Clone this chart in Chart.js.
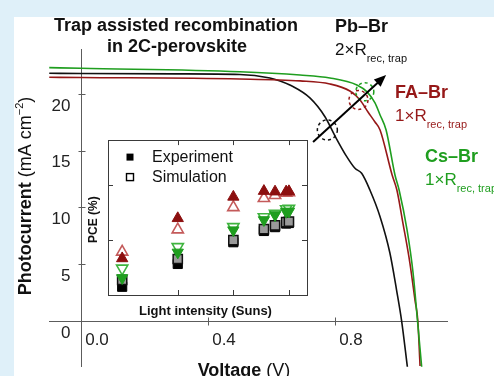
<!DOCTYPE html>
<html>
<head>
<meta charset="utf-8">
<script src="https://cdn.jsdelivr.net/npm/chart.js@4.4.0/dist/chart.umd.min.js"></script>
<style>
  html, body { margin: 0; padding: 0; background: #dff0f9; }
  #wrap { position: relative; width: 494px; height: 376px; overflow: hidden; }
  #panel { position: absolute; left: 14px; top: 17px; width: 480px; height: 359px; background: #fff; }
  #main { position: absolute; left: 0; top: 0; }
  #inset { position: absolute; left: 84px; top: 132px; }
</style>
</head>
<body>
<div id="wrap">
  <div id="panel"></div>
  <canvas id="main" width="494" height="376"></canvas>
  <canvas id="inset" width="236" height="190"></canvas>
</div>
<script>
// J-V curves (voltage in V, photocurrent in mA cm^-2)
const pbV = [-0.1, 0, 0.3, 0.5, 0.595, 0.627, 0.658, 0.721, 0.769, 0.80, 0.837, 0.863, 0.884, 0.910, 0.942, 0.973, 0.994, 1.010, 1.028];
const pbJ = [21.82, 21.80, 21.77, 21.72, 21.41, 21.15, 20.79, 19.65, 17.97, 16.3, 14.48, 13.45, 13.01, 11.54, 9.19, 5.99, 2.73, 0, -4.03];
const faV = [-0.1, 0, 0.5, 0.69, 0.784, 0.847, 0.879, 0.904, 0.926, 0.942, 0.980, 0.995, 1.014, 1.036, 1.052, 1.061, 1.068];
const faJ = [21.47, 21.45, 21.32, 21.15, 20.88, 20.26, 19.47, 18.41, 17.53, 16.83, 12.86, 11.54, 8.63, 5.11, 1.85, 0, -3.96];
const csV = [-0.1, 0, 0.5, 0.69, 0.784, 0.869, 0.901, 0.926, 0.942, 0.961, 0.989, 1.002, 1.027, 1.046, 1.060, 1.073];
const csJ = [22.32, 22.26, 21.96, 21.67, 21.41, 20.79, 20.18, 19.21, 18.15, 16.83, 12.86, 11.54, 8.02, 4.23, 0, -4.03];

const xTicks = [0.0, 0.4, 0.8];
const yTicks = [0, 5, 10, 15, 20];

// inset: PCE vs light intensity
const intensity = [0.2, 0.4, 0.6, 0.71, 0.75, 0.79, 0.80];
const pbExp = [12.30, 13.13, 13.92, 14.33, 14.47, 14.60, 14.62];
const pbSim = [12.55, 13.31, 14.00, 14.40, 14.53, 14.65, 14.67];
const faExp = [13.33, 14.79, 15.57, 15.78, 15.76, 15.76, 15.77];
const faSim = [13.57, 14.38, 15.19, 15.52, 15.63, 15.71, 15.73];
const csExp = [12.62, 13.55, 14.36, 14.73, 14.91, 15.03, 15.04];
const csSim = [12.97, 13.75, 14.48, 14.84, 14.96, 15.13, 15.15];
const insetXTicks = [0.4, 0.6, 0.8];
const insetYTicks = [14, 16];

const SANS = '"Liberation Sans", Arial, Helvetica, sans-serif';
const RED = '#961818';
const GREEN = '#1f9e1f';

function pts(xs, ys) {
  return xs.map((v, i) => ({ x: v, y: ys[i] }));
}

// draw a run of text pieces with their own fonts (for sub/superscripts)
function drawParts(ctx, parts, x, y, align) {
  let total = 0;
  parts.forEach(p => { ctx.font = p.font; p.w = ctx.measureText(p.text).width; total += p.w; });
  let cx = align === 'center' ? x - total / 2 : x;
  ctx.textAlign = 'left';
  ctx.textBaseline = 'alphabetic';
  parts.forEach(p => {
    ctx.font = p.font;
    if (p.color) ctx.fillStyle = p.color;
    ctx.fillText(p.text, cx, y + (p.dy || 0));
    cx += p.w;
  });
}

const mainPlugin = {
  id: 'jvDecor',
  beforeDatasetsDraw(chart) {
    const { ctx, scales: { x, y } } = chart;
    const x0 = Math.round(x.getPixelForValue(0)) + 0.5;
    const y0 = Math.round(y.getPixelForValue(0)) + 0.5;
    ctx.save();
    ctx.strokeStyle = '#5c5c5c';
    ctx.lineWidth = 1;
    ctx.beginPath();
    ctx.moveTo(x.left, y0); ctx.lineTo(x.right, y0);
    ctx.moveTo(x0, y.top); ctx.lineTo(x0, y.bottom);
    yTicks.forEach(v => {
      const p = Math.round(y.getPixelForValue(v)) + 0.5;
      ctx.moveTo(x0 - 3, p); ctx.lineTo(x0 + 4, p);
    });
    xTicks.forEach(v => {
      const p = Math.round(x.getPixelForValue(v)) + 0.5;
      ctx.moveTo(p, y0 - 4); ctx.lineTo(p, y0 + 4);
    });
    ctx.stroke();

    ctx.fillStyle = '#222';
    ctx.font = '17px ' + SANS;
    ctx.textAlign = 'right';
    ctx.textBaseline = 'middle';
    yTicks.forEach(v => ctx.fillText(String(v), x0 - 11, y.getPixelForValue(v) + 12));
    ctx.textAlign = 'center';
    xTicks.forEach(v => ctx.fillText(v.toFixed(1), x.getPixelForValue(v) + 16, y0 + 19));

    // axis titles
    ctx.fillStyle = '#111';
    drawParts(ctx, [
      { text: 'Voltage', font: 'bold 18px ' + SANS },
      { text: ' (V)', font: '18px ' + SANS }
    ], 244, 376, 'center');

    ctx.save();
    ctx.translate(31, 196);
    ctx.rotate(-Math.PI / 2);
    drawParts(ctx, [
      { text: 'Photocurrent', font: 'bold 18px ' + SANS },
      { text: ' (mA cm', font: '18px ' + SANS },
      { text: '\u22122', font: '11px ' + SANS, dy: -8 },
      { text: ')', font: '18px ' + SANS }
    ], 0, 0, 'center');
    ctx.restore();
    ctx.restore();
  },
  afterDatasetsDraw(chart) {
    const { ctx, scales: { x, y } } = chart;
    ctx.save();
    // dashed markers around the maximum power points
    const rings = [
      { v: 0.776, j: 16.83, r: 10, c: '#111' },
      { v: 0.874, j: 19.47, r: 9.5, c: RED },
      { v: 0.894, j: 20.2, r: 9, c: GREEN }
    ];
    ctx.lineWidth = 1.5;
    ctx.setLineDash([3, 3]);
    rings.forEach(o => {
      ctx.strokeStyle = o.c;
      ctx.beginPath();
      ctx.arc(x.getPixelForValue(o.v), y.getPixelForValue(o.j), o.r, 0, Math.PI * 2);
      ctx.stroke();
    });
    ctx.setLineDash([]);

    // arrow
    const ax1 = x.getPixelForValue(0.731), ay1 = y.getPixelForValue(15.77);
    const ax2 = x.getPixelForValue(0.961), ay2 = y.getPixelForValue(21.67);
    const ang = Math.atan2(ay2 - ay1, ax2 - ax1);
    ctx.strokeStyle = '#000';
    ctx.fillStyle = '#000';
    ctx.lineWidth = 2;
    ctx.beginPath();
    ctx.moveTo(ax1, ay1);
    ctx.lineTo(ax2 - 8 * Math.cos(ang), ay2 - 8 * Math.sin(ang));
    ctx.stroke();
    ctx.beginPath();
    ctx.moveTo(ax2, ay2);
    ctx.lineTo(ax2 - 12 * Math.cos(ang) + 5 * Math.sin(ang), ay2 - 12 * Math.sin(ang) - 5 * Math.cos(ang));
    ctx.lineTo(ax2 - 12 * Math.cos(ang) - 5 * Math.sin(ang), ay2 - 12 * Math.sin(ang) + 5 * Math.cos(ang));
    ctx.closePath();
    ctx.fill();

    // titles and labels
    ctx.fillStyle = '#111';
    ctx.font = 'bold 18px ' + SANS;
    ctx.textAlign = 'center';
    ctx.textBaseline = 'alphabetic';
    ctx.fillText('Trap assisted recombination', 176, 31);
    ctx.fillText('in 2C-perovskite', 177, 52);

    const labels = [
      { name: 'Pb\u2013Br', k: '2', x: 335, y: 32, c: '#111' },
      { name: 'FA\u2013Br', k: '1', x: 395, y: 98, c: RED },
      { name: 'Cs\u2013Br', k: '1', x: 425, y: 162, c: GREEN }
    ];
    labels.forEach(l => {
      ctx.fillStyle = l.c;
      drawParts(ctx, [{ text: l.name, font: 'bold 18px ' + SANS }], l.x, l.y, 'left');
      drawParts(ctx, [
        { text: l.k + '\u00d7R', font: '17px ' + SANS },
        { text: 'rec, trap', font: '11px ' + SANS, dy: 7 }
      ], l.x, l.y + 23, 'left');
    });
    ctx.restore();
  }
};

new Chart(document.getElementById('main'), {
  type: 'line',
  data: {
    datasets: [
      { label: 'Cs-Br', data: pts(csV, csJ), borderColor: GREEN, order: 1 },
      { label: 'FA-Br', data: pts(faV, faJ), borderColor: RED, order: 2 },
      { label: 'Pb-Br', data: pts(pbV, pbJ), borderColor: '#111', order: 3 }
    ]
  },
  options: {
    responsive: false,
    animation: false,
    devicePixelRatio: 1,
    layout: { padding: { left: 49, right: 46, top: 49, bottom: 9 } },
    elements: {
      line: { borderWidth: 1.6, cubicInterpolationMode: 'monotone', fill: false },
      point: { radius: 0 }
    },
    scales: {
      x: { type: 'linear', display: false, min: -0.1008, max: 1.156 },
      y: { type: 'linear', display: false, min: -4.05, max: 23.96 }
    },
    plugins: { legend: { display: false }, tooltip: { enabled: false } }
  },
  plugins: [mainPlugin]
});

const insetPlugin = {
  id: 'insetDecor',
  beforeDraw(chart) {
    const { ctx, chartArea: a } = chart;
    ctx.save();
    ctx.fillStyle = '#fff';
    ctx.fillRect(a.left, a.top, a.right - a.left, a.bottom - a.top);
    ctx.restore();
  },
  afterDraw(chart) {
    const { ctx, chartArea: a, scales: { x, y } } = chart;
    ctx.save();
    ctx.strokeStyle = '#3a3a3a';
    ctx.lineWidth = 1;
    ctx.strokeRect(Math.round(a.left) + 0.5, Math.round(a.top) + 0.5, Math.round(a.right - a.left), Math.round(a.bottom - a.top));
    ctx.beginPath();
    insetXTicks.forEach(v => {
      const p = Math.round(x.getPixelForValue(v)) + 0.5;
      ctx.moveTo(p, a.top); ctx.lineTo(p, a.top + 5);
      ctx.moveTo(p, a.bottom); ctx.lineTo(p, a.bottom - 5);
    });
    insetYTicks.forEach(v => {
      const p = Math.round(y.getPixelForValue(v)) + 0.5;
      ctx.moveTo(a.left, p); ctx.lineTo(a.left + 5, p);
      ctx.moveTo(a.right, p); ctx.lineTo(a.right - 5, p);
    });
    ctx.stroke();

    // legend
    ctx.fillStyle = '#000';
    ctx.fillRect(a.left + 18.5, a.top + 13.5, 7, 7);
    ctx.fillStyle = '#fff';
    ctx.fillRect(a.left + 18.5, a.top + 33.5, 7, 7);
    ctx.strokeStyle = '#000';
    ctx.lineWidth = 1.4;
    ctx.strokeRect(a.left + 18.5, a.top + 33.5, 7, 7);
    ctx.fillStyle = '#111';
    ctx.font = '16px ' + SANS;
    ctx.textAlign = 'left';
    ctx.textBaseline = 'middle';
    ctx.fillText('Experiment', a.left + 44, a.top + 17);
    ctx.fillText('Simulation', a.left + 44, a.top + 37);

    // axis titles
    ctx.font = 'bold 13px ' + SANS;
    ctx.textAlign = 'center';
    ctx.fillText('Light intensity (Suns)', (a.left + a.right) / 2 - 2, a.bottom + 16);
    ctx.save();
    ctx.translate(a.left - 14, (a.top + a.bottom) / 2 + 2);
    ctx.rotate(-Math.PI / 2);
    ctx.font = 'bold 12px ' + SANS;
    ctx.fillText('PCE (%)', 0, 0);
    ctx.restore();
    ctx.restore();
  }
};

new Chart(document.getElementById('inset'), {
  type: 'scatter',
  data: {
    datasets: [
      { data: pts(intensity, pbSim), pointStyle: 'rect', radius: 6.5, backgroundColor: '#9a9a9a', borderColor: '#111', borderWidth: 1.5, order: 6 },
      { data: pts(intensity, pbExp), pointStyle: 'rect', radius: 6.5, backgroundColor: '#000', borderColor: '#000', borderWidth: 1, order: 7 },
      { data: pts(intensity, csSim), pointStyle: 'triangle', rotation: 180, radius: 6.5, backgroundColor: 'rgba(255,255,255,0)', borderColor: '#3fb43f', borderWidth: 1.6, order: 5 },
      { data: pts(intensity, csExp), pointStyle: 'triangle', rotation: 180, radius: 6.5, backgroundColor: GREEN, borderColor: GREEN, borderWidth: 1, order: 4 },
      { data: pts(intensity, faSim), pointStyle: 'triangle', radius: 6.5, backgroundColor: 'rgba(255,255,255,0)', borderColor: '#c45a5a', borderWidth: 1.6, order: 2 },
      { data: pts(intensity, faExp), pointStyle: 'triangle', radius: 6.5, backgroundColor: '#8c0f0f', borderColor: '#8c0f0f', borderWidth: 1, order: 1 }
    ]
  },
  options: {
    responsive: false,
    animation: false,
    devicePixelRatio: 1,
    layout: { padding: { left: 24, right: 13, top: 8, bottom: 27 } },
    scales: {
      x: { type: 'linear', display: false, min: 0.149, max: 0.865 },
      y: { type: 'linear', display: false, min: 12, max: 17.636 }
    },
    plugins: { legend: { display: false }, tooltip: { enabled: false } }
  },
  plugins: [insetPlugin]
});
</script>
</body>
</html>
